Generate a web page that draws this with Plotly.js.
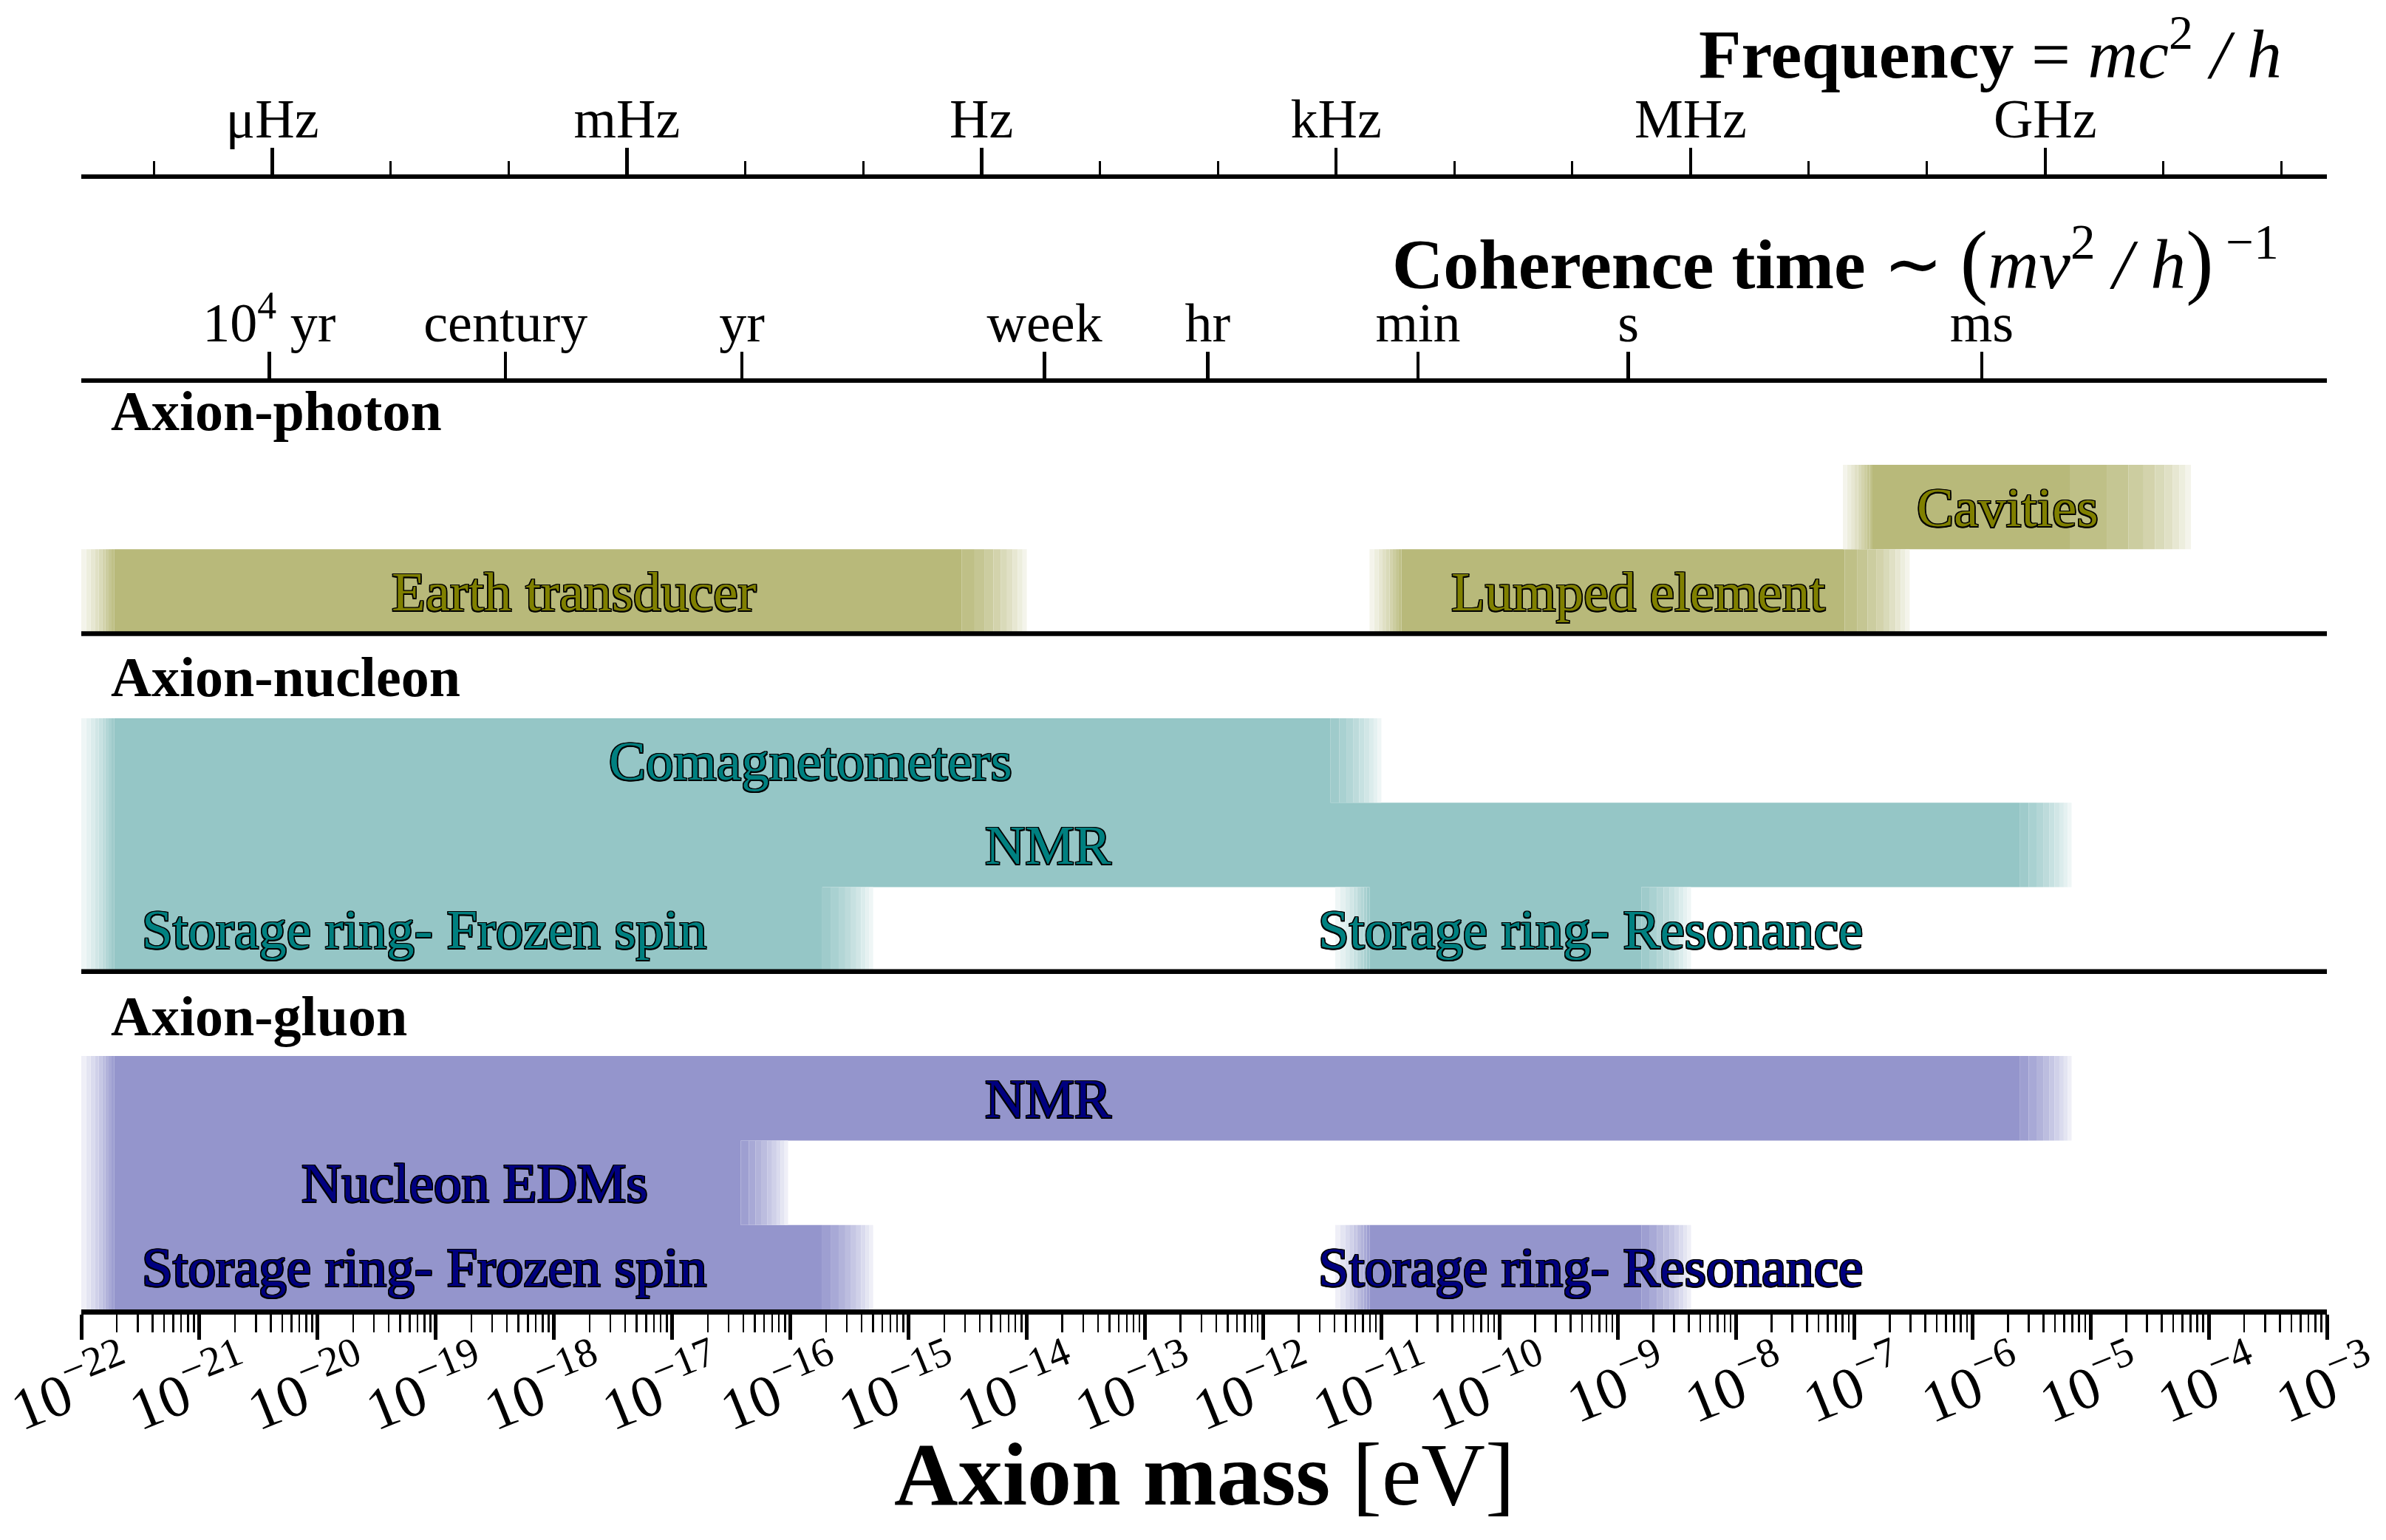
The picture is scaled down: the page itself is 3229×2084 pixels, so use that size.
<!DOCTYPE html>
<html><head><meta charset="utf-8">
<script src="https://cdn.plot.ly/plotly-3.0.1.min.js"></script>
<style>html,body{margin:0;padding:0;background:#fff}#chart{width:3229px;height:2084px}</style>
</head><body><div id="chart"></div>
<script>
// ---------------- DATA ----------------
// Bottom axis: axion mass decades (log10 eV)
const massTickExp = [-22,-21,-20,-19,-18,-17,-16,-15,-14,-13,-12,-11,-10,-9,-8,-7,-6,-5,-4,-3];

// Frequency axis (Hz) : f = m c^2 / h
const freqMajorHz = [1e-6, 1e-3, 1, 1e3, 1e6, 1e9];
const freqMajorLabels = ['μHz', 'mHz', 'Hz', 'kHz', 'MHz', 'GHz'];
const freqMinorExp = [-7,-5,-4,-2,-1,1,2,4,5,7,8,10,11];

// Coherence-time axis: positions (log10 of mass in eV)
const coherenceLabels = ['10<sup>4</sup> yr', 'century', 'yr', 'week', 'hr', 'min', 's', 'ms'];
const coherenceLogMass = [-20.41, -18.41, -16.41, -13.85, -12.47, -10.69, -8.91, -5.92];

// Sections
const sectionNames = ['Axion-photon', 'Axion-nucleon', 'Axion-gluon'];

// Experiments (log10 of mass in eV): outer start, solid start, solid end, outer end
const barNames    = ['Earth transducer','Lumped element','Cavities',
                     'Comagnetometers','NMR','Storage ring- Frozen spin','Storage ring- Resonance',
                     'NMR','Nucleon EDMs','Storage ring- Frozen spin','Storage ring- Resonance'];
const barSection  = [0,0,0, 1,1,1,1, 2,2,2,2];
const barRow      = [8,8,9, 6,5,4,4, 2,1,0,0];
const barLoOuter  = [-22,   -11.10, -7.095, -22,    -22,   -22,    -11.39, -22,   -22,    -22,    -11.39];
const barLoSolid  = [-21.72,-10.83, -6.845, -21.72, -21.72,-21.72, -11.10, -21.72,-21.72, -21.72, -11.10];
const barHiSolid  = [-14.55, -7.08, -5.17,  -11.43, -5.60, -15.73, -8.80,  -5.60, -16.42, -15.73, -8.80];
const barHiOuter  = [-14.00, -6.53, -4.15,  -11.00, -5.16, -15.30, -8.38,  -5.16, -16.02, -15.30, -8.38];
const barLabelPos = [-17.83, -8.83, -5.70,  -15.83, -13.82, -19.10, -9.23, -13.82, -18.67, -19.10, -9.23];

// ---------------- STYLE ----------------
const FONT = 'Liberation Serif, Times New Roman, serif';
const H_EV = 4.135667696e-15; // Planck constant in eV s
const sectionFill = [[184,185,122],[149,198,198],[148,149,204]];
const sectionText = ['#808000', '#008080', '#000080'];
const outline = '-1.5px -1.5px 0 #000, 1.5px -1.5px 0 #000, -1.5px 1.5px 0 #000, 1.5px 1.5px 0 #000, 0 1.5px 0 #000, 0 -1.5px 0 #000, 1.5px 0 0 #000, -1.5px 0 0 #000';
const NSTEP = 9;

const W = 3229, Hh = 2084;
const M = {l:110, r:80, t:242, b:312};
const plotH = Hh - M.t - M.b;
const rowPx = 114.3;
const yTop = plotH / rowPx;
const pxToPaperY = p => (Hh - M.b - p) / plotH;
const pxToPaperX = p => (p - M.l) / (W - M.l - M.r);

// ---------------- BARS ----------------
const polys = {}; // key: section-level
function addRect(sec, lvl, x0, x1, y0, y1) {
  const k = sec + '-' + lvl;
  if (!polys[k]) polys[k] = {x: [], y: []};
  polys[k].x.push(x0, x1, x1, x0, x0, null);
  polys[k].y.push(y0, y0, y1, y1, y0, null);
}
for (let b = 0; b < barNames.length; b++) {
  const a = Math.pow(10, barLoOuter[b]), sl = Math.pow(10, barLoSolid[b]);
  const sr = Math.pow(10, barHiSolid[b]), e = Math.pow(10, barHiOuter[b]);
  const y0 = barRow[b], y1 = barRow[b] + 1, s = barSection[b];
  addRect(s, 0, sl, sr, y0, y1);
  for (let i = 1; i <= NSTEP; i++) {
    addRect(s, i, sl - (sl - a) * i / NSTEP, sl - (sl - a) * (i - 1) / NSTEP, y0, y1);
    addRect(s, i, sr + (e - sr) * (i - 1) / NSTEP, sr + (e - sr) * i / NSTEP, y0, y1);
  }
}
const traces = [];
Object.keys(polys).forEach(k => {
  const [s, lvl] = k.split('-').map(Number);
  const f = 1 - 0.094 * lvl;
  const c = sectionFill[s].map(v => Math.round(255 + (v - 255) * f));
  const col = 'rgb(' + c.join(',') + ')';
  traces.push({type: 'scatter', mode: 'lines', x: polys[k].x, y: polys[k].y, fill: 'toself',
    fillcolor: col, line: {width: 0, color: col}, hoverinfo: 'skip', showlegend: false,
    xaxis: 'x', yaxis: 'y'});
});
// invisible traces to bind the top axes
const massRange = [Math.pow(10, massTickExp[0]), Math.pow(10, massTickExp[massTickExp.length - 1])];
['x2', 'x3'].forEach(ax => traces.push({type: 'scatter', mode: 'markers', x: massRange, y: [0, 0],
  marker: {opacity: 0}, hoverinfo: 'skip', showlegend: false, xaxis: ax, yaxis: 'y'}));

// ---------------- AXES ----------------
const massMinor = [];
massTickExp.slice(0, -1).forEach(e => { for (let m = 2; m <= 9; m++) massMinor.push(m * Math.pow(10, e)); });
const logRange = [massTickExp[0], massTickExp[massTickExp.length - 1]];

const xaxis = {
  type: 'log', range: logRange, showgrid: false, zeroline: false,
  showline: true, linecolor: '#000', linewidth: 7,
  ticks: 'outside', ticklen: 34, tickwidth: 5, tickcolor: '#000',
  tickmode: 'array', tickvals: massTickExp.map(e => Math.pow(10, e)),
  ticktext: massTickExp.map(e => '10<sup>−' + Math.abs(e) + '</sup>'),
  tickangle: -22, tickfont: {family: FONT, size: 80, color: '#000'},
  ticklabelshift: 60, ticklabelstandoff: -32, ticklabeloverflow: 'allow',
  minor: {tickmode: 'array', tickvals: massMinor, ticks: 'outside', ticklen: 24, tickwidth: 2.5, tickcolor: '#000', showgrid: false},
  fixedrange: true
};
const xaxis2 = {
  type: 'log', range: logRange, overlaying: 'x', anchor: 'y', side: 'top',
  showgrid: false, zeroline: false, showline: true, linecolor: '#000', linewidth: 6,
  ticks: 'outside', ticklen: 36, tickwidth: 4.5, tickcolor: '#000',
  tickmode: 'array', tickvals: freqMajorHz.map(f => f * H_EV), ticktext: freqMajorLabels,
  tickfont: {family: FONT, size: 74, color: '#000'}, ticklabelstandoff: -16,
  minor: {tickmode: 'array', tickvals: freqMinorExp.map(e => Math.pow(10, e) * H_EV), ticks: 'outside', ticklen: 18, tickwidth: 3, tickcolor: '#000', showgrid: false},
  fixedrange: true
};
const xaxis3 = {
  type: 'log', range: logRange, overlaying: 'x', anchor: 'free', position: pxToPaperY(515), side: 'top',
  showgrid: false, zeroline: false, showline: true, linecolor: '#000', linewidth: 6,
  ticks: 'outside', ticklen: 36, tickwidth: 4.5, tickcolor: '#000',
  tickmode: 'array', tickvals: coherenceLogMass.map(v => Math.pow(10, v)), ticktext: coherenceLabels,
  tickfont: {family: FONT, size: 74, color: '#000'}, ticklabelstandoff: -16,
  fixedrange: true
};
const yaxis = {range: [0, yTop], visible: false, showgrid: false, zeroline: false, fixedrange: true};

// ---------------- ANNOTATIONS ----------------
const annotations = [];
for (let b = 0; b < barNames.length; b++) {
  annotations.push({x: barLabelPos[b], y: barRow[b] + 0.5, xref: 'x', yref: 'y', text: barNames[b],
    showarrow: false, xanchor: 'center', yanchor: 'middle',
    font: {family: FONT, size: 75, color: sectionText[barSection[b]], shadow: outline}});
}
const sectionLabelY = [10.64, 7.49, 3.47];
sectionNames.forEach((n, i) => annotations.push({x: pxToPaperX(148), y: sectionLabelY[i], xref: 'paper', yref: 'y',
  text: '<b>' + n + '</b>', showarrow: false, xanchor: 'left', yanchor: 'middle',
  font: {family: FONT, size: 76, color: '#000'}}));
annotations.push({x: pxToPaperX(3090), y: pxToPaperY(66), xref: 'paper', yref: 'paper', xanchor: 'right', yanchor: 'middle',
  showarrow: false, text: '<b>Frequency</b> = <i>mc</i><sup>2</sup> <i>/ h</i>',
  font: {family: FONT, size: 94, color: '#000'}});
annotations.push({x: pxToPaperX(3086), y: pxToPaperY(352), xref: 'paper', yref: 'paper', xanchor: 'right', yanchor: 'middle',
  showarrow: false, text: '<b>Coherence time</b> ∼ <span style="font-size:112px">(</span><i>mv</i><sup>2</sup> <i>/ h</i><span style="font-size:112px">)</span><sup> −1</sup>',
  font: {family: FONT, size: 96, color: '#000'}});
// axis title of the mass axis
annotations.push({x: 0.5, y: pxToPaperY(1995), xref: 'paper', yref: 'paper', xanchor: 'center', yanchor: 'middle',
  showarrow: false, text: '<b>Axion mass</b> [eV]', font: {family: FONT, size: 120, color: '#000'}});

// separators between sections
const sepRows = [4, 8];
const shapes = sepRows.map(r => ({type: 'line', xref: 'paper', yref: 'y', x0: 0, x1: 1, y0: r, y1: r,
  line: {color: '#000', width: 6.5}, layer: 'above'}));

const layout = {
  width: W, height: Hh, margin: M, paper_bgcolor: '#fff', plot_bgcolor: '#fff',
  xaxis, xaxis2, xaxis3, yaxis, annotations, shapes, showlegend: false,
  font: {family: FONT, color: '#000'}
};
Plotly.newPlot('chart', traces, layout, {staticPlot: true, displayModeBar: false});
</script></body></html>
